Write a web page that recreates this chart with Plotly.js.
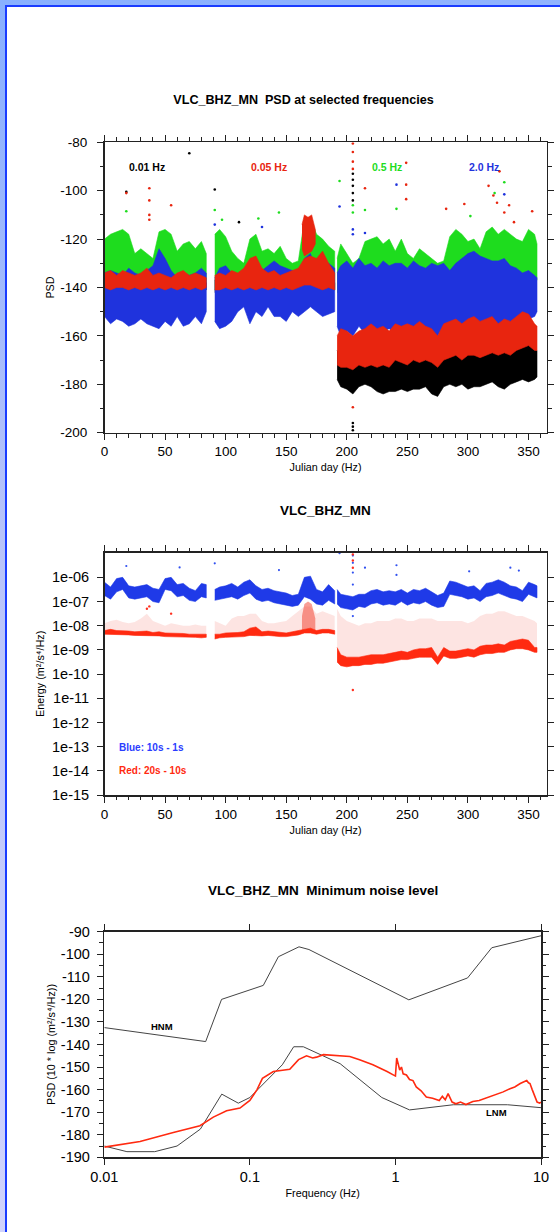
<!DOCTYPE html>
<html><head><meta charset="utf-8">
<script src="https://cdn.plot.ly/plotly-3.0.1.min.js"></script>
<style>
html,body{margin:0;padding:0;}
body{width:560px;height:1232px;position:relative;overflow:hidden;background:linear-gradient(170deg,#88b0ff 0%,#b8c4fa 40%,#d4d6fc 100%);}
#panel{position:absolute;left:5px;top:5px;width:555px;height:1227px;background:#fff;border-left:2px solid #1a3cff;border-top:2px solid #1a3cff;}
#chart{position:absolute;left:0;top:0;width:560px;height:1232px;}
</style></head><body><div id="panel"></div><div id="chart"></div>
<script>
// ---------- shared day grid (null = data gap) ----------
const dayGrid = [0,5,10,15,20,25,30,35,40,45,50,55,60,65,70,75,80,84, null,
  91,95,100,105,110,115,120,125,130,135,140,145,150,155,160,165,170,175,180,185,190, null,
  192,195,200,205,210,215,220,225,230,235,240,245,250,255,260,265,270,275,280,285,290,295,300,305,310,315,320,325,330,335,340,345,350,355,357];

// ---------- Plot 1: PSD at selected frequencies (dB) ----------
const psd001Hi = [-137,-137,-138,-137,-137,-138,-137,-137,-138,-137,-137,-138,-137,-137,-138,-137,-137,-138, null,
  -137,-137,-138,-137,-137,-138,-137,-137,-138,-137,-137,-138,-137,-137,-138,-137,-137,-138,-137,-137,-138, null,
  -166,-168,-170,-170,-170,-171,-170,-169,-168,-170,-168,-169,-168,-167,-168,-166,-168,-170,-165,-166,-165,-164,-163,-166,-165,-163,-160,-164,-165,-164,-164,-163,-162,-165,-166];
const psd001Lo = [-141,-142,-141,-141,-142,-141,-141,-142,-141,-141,-142,-141,-141,-142,-141,-141,-142,-141, null,
  -142,-141,-141,-142,-141,-141,-142,-141,-141,-142,-141,-141,-142,-141,-141,-142,-141,-141,-142,-141,-141, null,
  -178,-181,-182,-184,-181,-180,-181,-183,-184,-183,-183,-182,-183,-182,-182,-181,-184,-185,-181,-180,-181,-180,-182,-181,-181,-180,-179,-181,-182,-180,-179,-178,-179,-178,-177];

const psd005Hi = [-134,-133,-135,-133,-134,-135,-134,-132,-135,-134,-135,-136,-134,-133,-135,-134,-135,-136, null,
  -135,-134,-135,-133,-134,-132,-128,-127,-132,-134,-133,-135,-134,-133,-132,-128,-127,-128,-125,-130,-134, null,
  -160,-157,-158,-160,-158,-157,-155,-157,-156,-158,-155,-156,-155,-156,-154,-156,-157,-160,-155,-154,-153,-155,-153,-152,-154,-153,-152,-155,-153,-154,-152,-150,-151,-155,-156];
const psd005Lo = [-140,-141,-140,-140,-141,-140,-141,-140,-141,-140,-141,-140,-141,-140,-141,-140,-141,-140, null,
  -141,-141,-140,-141,-140,-141,-140,-141,-140,-141,-140,-141,-140,-141,-140,-139,-139,-140,-141,-140,-141, null,
  -172,-173,-173,-174,-172,-173,-172,-173,-172,-173,-170,-171,-172,-170,-171,-170,-171,-173,-170,-169,-168,-170,-168,-168,-169,-168,-167,-168,-167,-168,-166,-165,-164,-166,-166];
const psd005BlockDay = [163,165,168,171,174];
const psd005BlockHi  = [-114,-110,-111,-110,-116];
const psd005BlockLo  = [-124,-127,-126,-125,-122];

const psd05Hi = [-120,-118,-117,-116,-118,-126,-124,-126,-128,-117,-116,-118,-125,-122,-121,-124,-121,-126, null,
  -118,-116,-119,-125,-128,-130,-120,-118,-125,-124,-126,-123,-128,-130,-129,-112,-111,-118,-120,-123,-125, null,
  -128,-122,-126,-130,-128,-121,-120,-119,-122,-120,-125,-120,-126,-128,-124,-126,-128,-130,-129,-119,-116,-118,-121,-120,-124,-117,-115,-118,-116,-118,-120,-121,-116,-118,-122];
const psd05Lo = [-138,-139,-138,-138,-139,-138,-138,-139,-138,-138,-139,-138,-138,-139,-138,-138,-139,-138, null,
  -141,-140,-141,-140,-141,-142,-141,-140,-141,-142,-143,-142,-141,-142,-141,-140,-141,-142,-141,-140,-141, null,
  -142,-143,-144,-143,-142,-144,-143,-142,-144,-143,-142,-143,-142,-141,-143,-142,-141,-143,-142,-141,-140,-141,-140,-139,-140,-139,-138,-139,-138,-137,-138,-137,-136,-137,-137];

const psd2Hi = [-134,-133,-134,-135,-132,-134,-135,-133,-131,-124,-128,-133,-136,-134,-135,-134,-132,-134, null,
  -136,-132,-131,-134,-135,-133,-132,-131,-133,-131,-129,-131,-132,-133,-134,-128,-126,-133,-132,-130,-132, null,
  -134,-131,-129,-132,-128,-131,-130,-132,-129,-131,-130,-130,-132,-129,-131,-132,-130,-131,-130,-133,-130,-128,-126,-125,-127,-128,-129,-129,-128,-131,-132,-134,-133,-135,-136];
const psd2Lo = [-152,-155,-153,-154,-156,-155,-153,-155,-156,-157,-154,-156,-152,-156,-155,-152,-155,-150, null,
  -154,-157,-156,-154,-150,-148,-155,-150,-152,-148,-152,-152,-154,-150,-152,-150,-148,-150,-152,-151,-150, null,
  -156,-160,-158,-160,-156,-159,-157,-160,-158,-157,-159,-157,-160,-157,-159,-158,-161,-160,-156,-159,-158,-157,-158,-156,-158,-160,-157,-156,-158,-156,-157,-155,-153,-152,-150];

// isolated points (day, dB)
const psdOutBlackDay = [70,18,91,111,205,205,205,205,205,205,205,205];
const psdOutBlackVal = [-84.5,-100.5,-99.5,-113,-93,-95.5,-98,-101,-104,-196,-197.5,-199];
const psdOutRedDay = [18,37,37,37,37,55,205,205,205,205,205,215,249,249,249,282,297,317,321,324,326,330,334,338,353];
const psdOutRedVal = [-101,-99,-104,-110,-112,-106,-80.5,-84,-88,-91,-189.5,-99,-88.5,-97.5,-103.5,-107.5,-105.5,-98,-102,-105,-92,-109,-106,-113,-108.5];
const psdOutGreenDay = [18,91,97,127,144,194,205,205,215,241,302,330,322];
const psdOutGreenVal = [-108.5,-108,-112,-111.5,-109,-96,-106,-109,-108,-107.5,-110.5,-96.5,-101];
const psdOutBlueDay = [91,194,205,205,215,241,330,130];
const psdOutBlueVal = [-114,-106.5,-116,-118,-117.5,-97.5,-101.5,-115];
const psdTicks = [-200,-180,-160,-140,-120,-100,-80];

// ---------- Plot 2: Energy (log10 of m^2/s^4/Hz) ----------
const enBlueHiLog = [-6.2,-6.4,-6.05,-6.0,-6.35,-6.4,-6.35,-6.3,-6.45,-6.5,-6.05,-6.0,-6.3,-6.25,-6.45,-6.55,-6.25,-6.3, null,
  -6.5,-6.4,-6.35,-6.25,-6.4,-6.2,-6.1,-6.35,-6.5,-6.45,-6.55,-6.6,-6.65,-6.75,-6.7,-6.0,-5.95,-6.5,-6.6,-6.3,-6.55, null,
  -6.5,-6.7,-6.75,-6.8,-6.7,-6.7,-6.55,-6.5,-6.6,-6.55,-6.6,-6.5,-6.65,-6.5,-6.55,-6.45,-6.6,-6.75,-6.65,-6.15,-6.2,-6.3,-6.4,-6.35,-6.55,-6.25,-6.2,-6.1,-6.2,-6.35,-6.4,-6.55,-6.2,-6.3,-6.35];
const enBlueLoLog = [-6.75,-6.9,-6.6,-6.5,-6.85,-6.9,-6.85,-6.8,-7.0,-7.05,-6.5,-6.55,-6.8,-6.75,-6.95,-7.0,-6.8,-6.85, null,
  -6.95,-6.9,-6.85,-6.8,-6.9,-6.75,-6.65,-6.9,-7.0,-6.95,-7.05,-7.1,-7.15,-7.2,-7.15,-6.8,-6.9,-7.1,-7.15,-6.95,-7.1, null,
  -7.1,-7.25,-7.3,-7.35,-7.2,-7.25,-7.1,-7.05,-7.15,-7.1,-7.15,-7.0,-7.15,-7.05,-7.1,-7.0,-7.15,-7.25,-7.2,-6.7,-6.75,-6.8,-6.9,-6.85,-7.0,-6.8,-6.75,-6.65,-6.75,-6.85,-6.9,-7.0,-6.7,-6.8,-6.85];

const enRedHiLog = [-8.2,-8.15,-8.2,-8.2,-8.22,-8.25,-8.25,-8.22,-8.28,-8.25,-8.3,-8.3,-8.3,-8.32,-8.35,-8.35,-8.35,-8.35, null,
  -8.35,-8.35,-8.3,-8.3,-8.28,-8.25,-8.1,-8.05,-8.25,-8.22,-8.25,-8.28,-8.3,-8.25,-8.2,-8.15,-8.1,-8.2,-8.15,-8.15,-8.2, null,
  -8.9,-9.2,-9.3,-9.3,-9.3,-9.25,-9.2,-9.2,-9.2,-9.15,-9.1,-9.05,-9.1,-9.0,-8.95,-8.95,-8.9,-9.3,-8.9,-9.05,-9.05,-9.0,-8.95,-9.0,-8.85,-8.8,-8.8,-8.75,-8.8,-8.65,-8.6,-8.55,-8.6,-8.9,-8.9];
const enRedLoLog = [-8.35,-8.35,-8.35,-8.38,-8.38,-8.4,-8.4,-8.4,-8.42,-8.42,-8.45,-8.45,-8.45,-8.45,-8.48,-8.48,-8.5,-8.48, null,
  -8.55,-8.5,-8.48,-8.45,-8.45,-8.45,-8.4,-8.4,-8.42,-8.4,-8.42,-8.45,-8.45,-8.42,-8.38,-8.3,-8.3,-8.35,-8.3,-8.3,-8.35, null,
  -9.5,-9.65,-9.7,-9.65,-9.65,-9.6,-9.6,-9.55,-9.55,-9.5,-9.45,-9.4,-9.4,-9.35,-9.3,-9.3,-9.3,-9.6,-9.25,-9.35,-9.35,-9.3,-9.25,-9.3,-9.2,-9.15,-9.15,-9.1,-9.1,-9.0,-8.95,-8.95,-9.0,-9.1,-9.1];
// upper limit of the sparse red scatter
const enRedScatterTopLog = [-7.9,-7.8,-7.75,-7.85,-7.9,-7.85,-7.7,-7.5,-7.8,-7.9,-8.0,-7.9,-7.95,-8.0,-8.0,-7.95,-8.0,-8.0, null,
  -7.8,-7.9,-8.0,-7.7,-7.6,-7.6,-7.5,-7.5,-7.8,-7.9,-7.9,-7.85,-7.8,-7.6,-7.4,-7.2,-7.2,-7.5,-7.4,-7.5,-7.6, null,
  -7.3,-7.6,-7.8,-7.9,-8.0,-7.9,-7.9,-7.8,-7.8,-7.8,-7.7,-7.7,-7.8,-7.8,-7.7,-7.7,-7.7,-7.8,-7.8,-7.8,-7.8,-7.8,-7.9,-7.8,-7.6,-7.5,-7.5,-7.4,-7.4,-7.5,-7.6,-7.6,-7.7,-7.8,-7.9];
const enRedBlockDay = [163,165,168,171,174];
const enRedBlockHiLog = [-7.6,-7.1,-7.0,-7.1,-7.7];
const enRedBlockLoLog = [-8.2,-8.2,-8.2,-8.2,-8.2];

const enOutBlueDay = [18,62,91,144,194,205,205,205,205,205,215,241,241,301,335,342];
const enOutBlueLog = [-5.53,-5.59,-5.42,-5.7,-5.0,-5.1,-5.4,-5.8,-6.3,-7.6,-5.6,-5.5,-5.9,-5.75,-5.6,-5.72];
const enOutRedDay = [205,205,205,205,35,37,55];
const enOutRedLog = [-5.05,-5.3,-5.6,-10.66,-7.3,-7.2,-7.5];
const energyTickExp = [-15,-14,-13,-12,-11,-10,-9,-8,-7,-6];

// ---------- Plot 3: Minimum noise level ----------
const hnmFreq = [0.01,0.0497,0.0639,0.1237,0.157,0.2175,0.2546,1.236,3.13,4.59,10];
const hnmPsd  = [-132.5,-138.7,-120,-113.8,-101.1,-96.7,-97.9,-120.2,-110.5,-97.1,-91.8];
const lnmFreq = [0.01,0.0143,0.0222,0.0316,0.0457,0.0641,0.0833,0.1,0.167,0.2,0.233,0.417,0.806,1.25,2.5,5.88,10];
const lnmPsd  = [-185,-187.5,-187.5,-185,-177.5,-162,-166,-163.5,-149,-141,-141,-148.5,-163.5,-169,-166.7,-166.7,-168];
const minFreq = [0.01,0.0176,0.0298,0.0454,0.0561,0.0692,0.0855,0.1,0.112,0.122,0.145,0.188,0.216,0.245,0.27,0.287,0.32,0.4,0.486,0.567,0.70,0.876,0.97,1.0,1.02,1.05,1.07,1.1,1.13,1.19,1.25,1.32,1.39,1.5,1.63,1.8,2.0,2.1,2.2,2.3,2.35,2.45,2.6,2.8,3.05,3.4,3.76,4.3,4.98,5.5,6.12,6.6,7.2,7.6,7.98,8.2,8.4,8.7,9.07,9.4,9.8,10];
const minPsd  = [-185.5,-183,-179,-176,-172.2,-169.4,-168.2,-164.8,-160,-155,-152,-151,-146.7,-145,-146,-145.6,-144.5,-145,-145.3,-146.8,-149,-152,-153.5,-154,-146,-149,-151.3,-150,-153,-153.5,-155.5,-156,-158.8,-160.5,-163.3,-163.8,-164.8,-163,-164.5,-161.8,-163,-165.5,-166.3,-165.5,-166.6,-165.3,-164.8,-163.5,-161.8,-161,-159.6,-158.8,-157.3,-156.5,-156,-157,-157.3,-160,-163.3,-165.5,-166,-165.5];
const noiseTicks = [-190,-180,-170,-160,-150,-140,-130,-120,-110,-100,-90];

// ---------- colours ----------
const C_BLACK = '#000000', C_RED = '#e8250f', C_GREEN = '#1edc1e', C_BLUE = '#1f33dd';

// ---------- helpers ----------
const W = 560, H = 1232;
const px = x => x / W, py = y => 1 - y / H;
const ident = v => v, pow10 = v => Math.pow(10, v);

function splitSegments(days, lo, hi) {
  const out = []; let cur = null;
  days.forEach((d, i) => {
    if (d === null || lo[i] === null || hi[i] === null) { cur = null; return; }
    if (!cur) { cur = {x: [], lo: [], hi: []}; out.push(cur); }
    cur.x.push(d); cur.lo.push(lo[i]); cur.hi.push(hi[i]);
  });
  return out;
}
function bands(days, lo, hi, color, xa, ya, tf, lw) {
  return splitSegments(days, lo, hi).map(s => ({
    type: 'scatter', mode: 'lines', xaxis: xa, yaxis: ya,
    x: s.x.concat(s.x.slice().reverse()),
    y: s.hi.map(tf).concat(s.lo.slice().reverse().map(tf)),
    fill: 'toself', fillcolor: color, line: {width: lw === undefined ? 0.6 : lw, color: color},
    hoverinfo: 'skip', showlegend: false
  }));
}
function dots(x, y, color, xa, ya, tf, size) {
  return {type: 'scatter', mode: 'markers', xaxis: xa, yaxis: ya, x: x, y: y.map(tf),
    marker: {color: color, size: size || 2.6, line: {width: 0}}, hoverinfo: 'skip', showlegend: false};
}

const traces = [];
// plot 1 (black, green, blue, red order)
traces.push(...bands(dayGrid, psd001Lo, psd001Hi, C_BLACK, 'x', 'y', ident));
traces.push(...bands(dayGrid, psd05Lo, psd05Hi, C_GREEN, 'x', 'y', ident));
traces.push(...bands(dayGrid, psd2Lo, psd2Hi, C_BLUE, 'x', 'y', ident));
traces.push(...bands(dayGrid, psd005Lo, psd005Hi, C_RED, 'x', 'y', ident));
traces.push(...bands(psd005BlockDay, psd005BlockLo, psd005BlockHi, C_RED, 'x', 'y', ident));
traces.push(dots(psdOutBlackDay, psdOutBlackVal, C_BLACK, 'x', 'y', ident));
traces.push(dots(psdOutGreenDay, psdOutGreenVal, C_GREEN, 'x', 'y', ident));
traces.push(dots(psdOutBlueDay, psdOutBlueVal, C_BLUE, 'x', 'y', ident));
traces.push(dots(psdOutRedDay, psdOutRedVal, C_RED, 'x', 'y', ident));

// plot 2
traces.push(...bands(dayGrid, enRedLoLog, enRedScatterTopLog, 'rgba(240,50,30,0.13)', 'x2', 'y2', pow10, 0));
traces.push(...bands(enRedBlockDay, enRedBlockLoLog, enRedBlockHiLog, 'rgba(240,40,20,0.45)', 'x2', 'y2', pow10, 0));
traces.push(...bands(dayGrid, enRedLoLog, enRedHiLog, '#ff2a10', 'x2', 'y2', pow10));
traces.push(...bands(dayGrid, enBlueLoLog, enBlueHiLog, '#1f3ae8', 'x2', 'y2', pow10));
traces.push(dots(enOutBlueDay, enOutBlueLog, '#3050f0', 'x2', 'y2', pow10, 2.2));
traces.push(dots(enOutRedDay, enOutRedLog, '#ff3020', 'x2', 'y2', pow10, 2.4));

// plot 3
traces.push({type: 'scatter', mode: 'lines', xaxis: 'x3', yaxis: 'y3', x: hnmFreq, y: hnmPsd,
  line: {color: '#444', width: 1}, hoverinfo: 'skip', showlegend: false});
traces.push({type: 'scatter', mode: 'lines', xaxis: 'x3', yaxis: 'y3', x: lnmFreq, y: lnmPsd,
  line: {color: '#444', width: 1}, hoverinfo: 'skip', showlegend: false});
traces.push({type: 'scatter', mode: 'lines', xaxis: 'x3', yaxis: 'y3', x: minFreq, y: minPsd,
  line: {color: '#ff2a10', width: 1.6}, hoverinfo: 'skip', showlegend: false});

const FONT = 'Liberation Sans, Arial, Helvetica, DejaVu Sans, sans-serif';
const tickFont = {family: FONT, size: 13.5, color: '#000'};
const titleFont = {family: FONT, size: 10.8, color: '#000'};
const axBase = {showline: true, linecolor: '#222', linewidth: 1.5, mirror: 'ticks', ticks: 'outside',
  ticklen: 6, tickwidth: 1, tickcolor: '#222', showgrid: false, zeroline: false, tickfont: tickFont, fixedrange: true,
  automargin: false};

const dom1x = [px(104.5), px(546.7)];
const dom3x = [px(104.3), px(541)];

const layout = {
  width: W, height: H, margin: {l: 0, r: 0, t: 0, b: 0},
  paper_bgcolor: 'rgba(0,0,0,0)', plot_bgcolor: '#fff', showlegend: false,
  title: {text: '<b>VLC_BHZ_MN  PSD at selected frequencies</b>', xref: 'paper', yref: 'paper',
    x: px(303.5), xanchor: 'center', y: py(100), yanchor: 'middle', font: {family: FONT, size: 12.6, color: '#000'}},
  xaxis: Object.assign({}, axBase, {domain: dom1x, anchor: 'y', range: [0, 365], tick0: 0, dtick: 50,
    title: {text: 'Julian day (Hz)', font: titleFont, standoff: 5},
    minor: {dtick: 10, ticks: 'outside', ticklen: 3.5, tickcolor: '#222'}}),
  yaxis: Object.assign({}, axBase, {domain: [py(432.7), py(142.3)], anchor: 'x', range: [-200, -80],
    tickvals: psdTicks, ticktext: psdTicks.map(String),
    title: {text: 'PSD', font: titleFont, standoff: 3},
    ticklabelstandoff: 7, minor: {dtick: 10, ticks: 'outside', ticklen: 3.5, tickcolor: '#222'}}),
  xaxis2: Object.assign({}, axBase, {domain: dom1x, anchor: 'y2', range: [0, 365], tick0: 0, dtick: 50,
    title: {text: 'Julian day (Hz)', font: titleFont, standoff: 5},
    minor: {dtick: 10, ticks: 'outside', ticklen: 3.5, tickcolor: '#222'}}),
  yaxis2: Object.assign({}, axBase, {domain: [py(795), py(552.7)], anchor: 'x2', type: 'log', range: [-15, -4.98],
    title: {text: 'Energy (m\u00b2/s\u2074/Hz)', font: titleFont, standoff: 5},
    tickvals: energyTickExp.map(e => Math.pow(10, e)),
    ticktext: energyTickExp.map(e => '1e-' + String(-e).padStart(2, '0')),
    tickfont: {family: FONT, size: 14.5, color: '#000'}, ticklabelstandoff: 5}),
  xaxis3: Object.assign({}, axBase, {domain: dom3x, anchor: 'y3', type: 'log', range: [-2, 1],
    title: {text: 'Frequency (Hz)', font: titleFont, standoff: 5},
    tickvals: [0.01, 0.1, 1, 10], ticktext: ['0.01', '0.1', '1', '10'], tickfont: {family: FONT, size: 14.5, color: '#000'}}),
  yaxis3: Object.assign({}, axBase, {domain: [py(1157.3), py(931.7)], anchor: 'x3', range: [-190, -90],
    tickvals: noiseTicks, ticktext: noiseTicks.map(String),
    title: {text: 'PSD (10 * log (m\u00b2/s\u2074/Hz))', font: titleFont, standoff: 3},
    tickfont: {family: FONT, size: 14.5, color: '#000'}, ticklabelstandoff: 4,
    minor: {dtick: 5, ticks: 'outside', ticklen: 3.5, tickcolor: '#222'}}),
  annotations: []
};

function ann(text, x, y, size, opts) {
  layout.annotations.push(Object.assign({text: text, xref: 'paper', yref: 'paper', x: px(x), y: py(y),
    xanchor: 'center', yanchor: 'middle', showarrow: false,
    font: {family: FONT, size: size, color: '#000'}}, opts || {}));
}
// sub-plot titles
ann('<b>VLC_BHZ_MN</b>', 325, 510.7, 13.5);
ann('<b>VLC_BHZ_MN  Minimum noise level</b>', 323, 890, 13.5);
// in-plot labels
ann('<b>0.01 Hz</b>', 147, 166.7, 10.5, {font: {family: FONT, size: 10.5, color: C_BLACK}});
ann('<b>0.05 Hz</b>', 269.3, 166.7, 10.5, {font: {family: FONT, size: 10.5, color: C_RED}});
ann('<b>0.5 Hz</b>', 386.7, 166.7, 10.5, {font: {family: FONT, size: 10.5, color: C_GREEN}});
ann('<b>2.0 Hz</b>', 484, 166.7, 10.5, {font: {family: FONT, size: 10.5, color: C_BLUE}});
ann('<b>Blue: 10s - 1s</b>', 116.7, 747.7, 10, {xanchor: 'left', font: {family: FONT, size: 10, color: '#2a3cff'}});
ann('<b>Red: 20s - 10s</b>', 116.7, 770.7, 10, {xanchor: 'left', font: {family: FONT, size: 10, color: '#ff2a10'}});
ann('<b>HNM</b>', 161.7, 1026.7, 9.5);
ann('<b>LNM</b>', 496, 1112.3, 9.5);

Plotly.newPlot('chart', traces, layout, {staticPlot: true, displayModeBar: false});
</script></body></html>
